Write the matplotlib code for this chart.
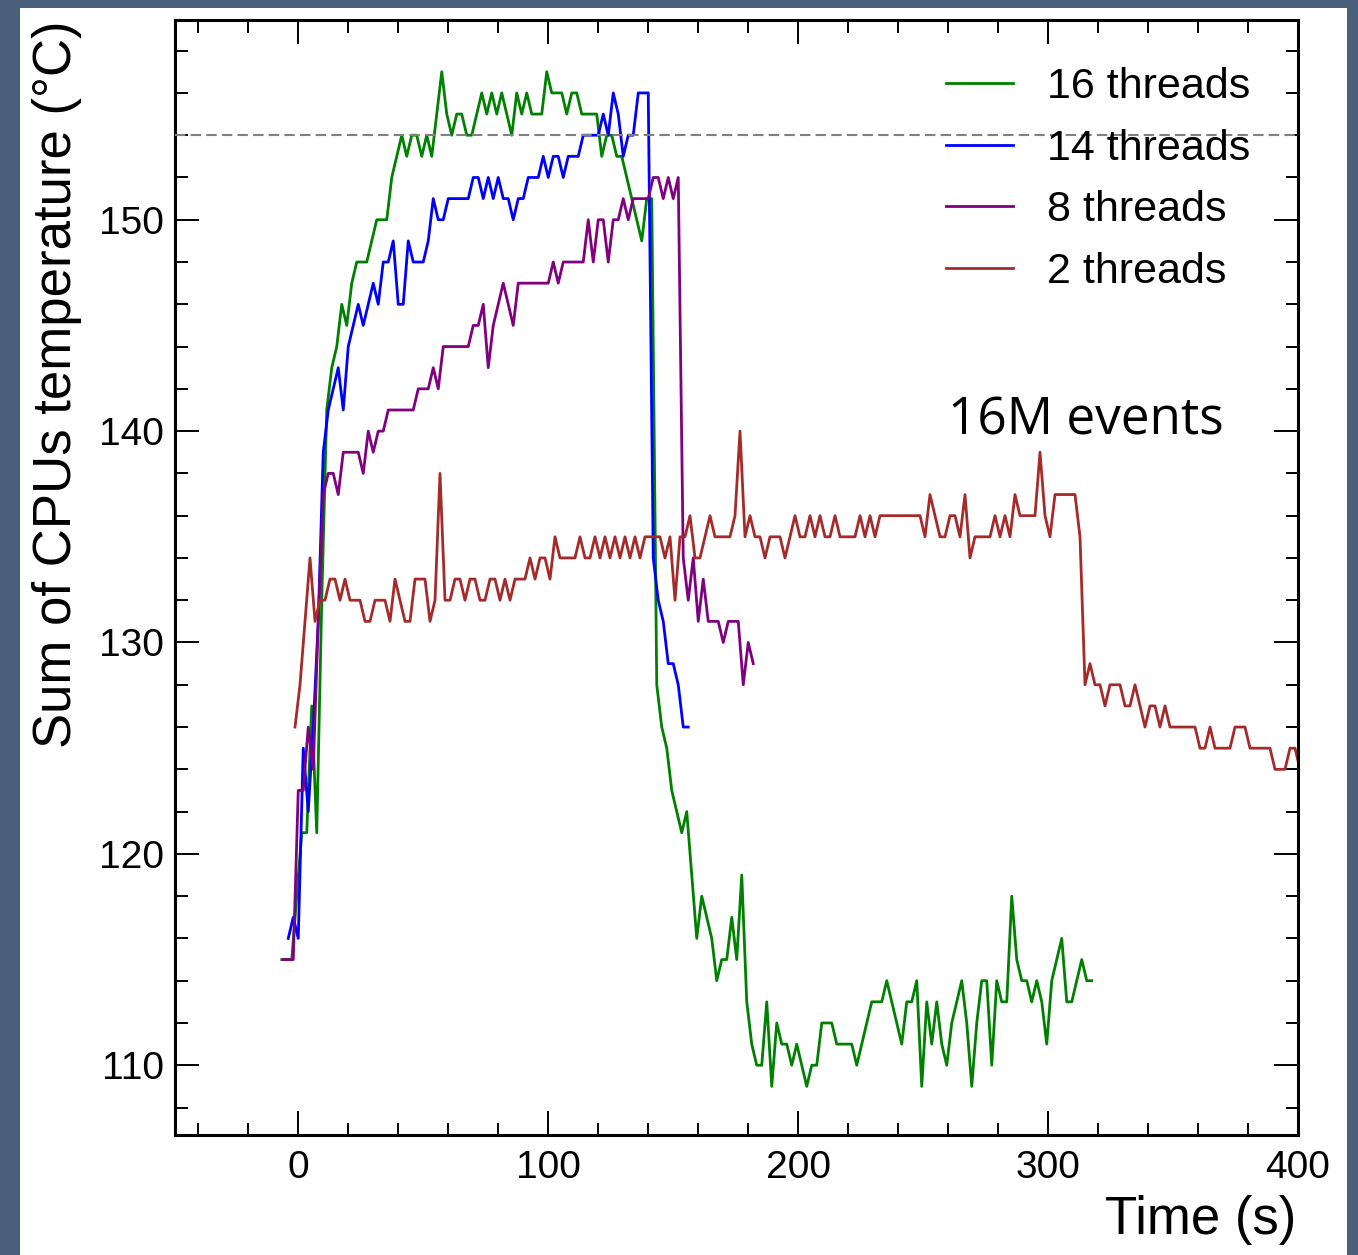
import numpy as np
import matplotlib
matplotlib.use("Agg")
import matplotlib.pyplot as plt
from matplotlib.patches import Rectangle
from matplotlib.ticker import MultipleLocator

# ---------------- data ----------------
DT = 2.0
green_t0 = -6.5
green_vals = [
    115, 115, 115, 118, 121, 121, 127, 121, 132, 141,
    143, 144, 146, 145, 147, 148, 148, 148, 149, 150,
    150, 150, 152, 153, 154, 153, 154, 154, 153, 154,
    153, 155, 157, 155, 154, 155, 155, 154, 154, 155,
    156, 155, 156, 155, 156, 155, 154, 156, 155, 156,
    155, 155, 155, 157, 156, 156, 156, 155, 156, 156,
    155, 155, 155, 155, 153, 154, 154, 153, 153, 152,
    151, 150, 149, 151, 151,
    128, 126, 125, 123, 122, 121, 122, 119, 116, 118,
    117, 116, 114, 115, 115, 117, 115, 119, 113, 111,
    110, 110, 113, 109, 112, 111, 111, 110, 111, 110,
    109, 110, 110, 112, 112, 112, 111, 111, 111, 111,
    110, 111, 112, 113, 113, 113, 114, 113, 112, 111,
    113, 113, 114, 109, 113, 111, 113, 111, 110, 112,
    113, 114, 112, 109, 112, 114, 114, 110, 114, 113,
    113, 118, 115, 114, 114, 113, 114, 113, 111, 114,
    115, 116, 113, 113, 114, 115, 114, 114,
]

blue_t0 = -3.9
blue_vals = [
    116, 117, 116, 125, 122, 126, 131, 139, 141, 142,
    143, 141, 144, 145, 146, 145, 146, 147, 146, 148,
    148, 149, 146, 146, 149, 148, 148, 148, 149, 151,
    150, 150, 151, 151, 151, 151, 151, 152, 152, 151,
    152, 151, 152, 151, 151, 150, 151, 151, 152, 152,
    152, 153, 152, 153, 153, 152, 153, 153, 153, 154,
    154, 154, 154, 155, 154, 156, 155, 153, 154, 154,
    156, 156, 156, 134, 132, 131, 129, 129, 128, 126,
    126,
]

purple_t0 = -5.9
purple_vals = [
    115, 115, 115, 123, 123, 126, 124, 131, 137, 138,
    138, 137, 139, 139, 139, 139, 138, 140, 139, 140,
    140, 141, 141, 141, 141, 141, 141, 142, 142, 142,
    143, 142, 144, 144, 144, 144, 144, 144, 145, 145,
    146, 143, 145, 146, 147, 146, 145, 147, 147, 147,
    147, 147, 147, 147, 148, 147, 148, 148, 148, 148,
    148, 150, 148, 150, 150, 148, 150, 150, 151, 150,
    151, 151, 151, 151, 152, 152, 151, 152, 151, 152,
    134, 132, 134, 131, 133, 131, 131, 131, 130, 131,
    131, 131, 128, 130, 129,
]

red_t0 = -1.2
red_vals = [
    126, 128, 131, 134, 131, 132, 132, 133, 133, 132,
    133, 132, 132, 132, 131, 131, 132, 132, 132, 131,
    133, 132, 131, 131, 133, 133, 133, 131, 132, 138,
    132, 132, 133, 133, 132, 133, 133, 132, 132, 133,
    133, 132, 133, 132, 133, 133, 133, 134, 133, 134,
    134, 133, 135, 134, 134, 134, 134, 135, 134, 134,
    135, 134, 135, 134, 135, 134, 135, 134, 135, 134,
    135, 135, 135, 135, 134, 135, 132, 135, 135, 136,
    134, 134, 135, 136, 135, 135, 135, 135, 136, 140,
    135, 136, 135, 135, 134, 135, 135, 135, 134, 135,
    136, 135, 135, 136, 135, 136, 135, 135, 136, 135,
    135, 135, 135, 136, 135, 136, 135, 136, 136, 136,
    136, 136, 136, 136, 136, 136, 135, 137, 136, 135,
    135, 136, 136, 135, 137, 134, 135, 135, 135, 135,
    136, 135, 136, 135, 137, 136, 136, 136, 136, 139,
    136, 135, 137, 137, 137, 137, 137, 135, 128, 129,
    128, 128, 127, 128, 128, 128, 127, 127, 128, 127,
    126, 127, 127, 126, 127, 126, 126, 126, 126, 126,
    126, 125, 125, 126, 125, 125, 125, 125, 126, 126,
    126, 125, 125, 125, 125, 125, 124, 124, 124, 125,
    125, 124,
]

labels = ["16 threads", "14 threads", "8 threads", "2 threads"]
colors = ["green", "blue", "purple", "brown"]
threshold = 154
annotation = "16M events"

# ---------------- figure ----------------
W, H = 1358, 1255
fig = plt.figure(figsize=(W / 100, H / 100), dpi=100)
fig.patch.set_facecolor("#4a5f79")
fig.patches.append(Rectangle((20 / W, 0), (1347 - 20) / W, 1 - 8 / H,
                             transform=fig.transFigure, facecolor="white",
                             edgecolor="none", zorder=-10))

ax = fig.add_axes([175 / W, 1 - 1135 / H, (1298 - 175) / W, (1135 - 20) / H])

series = [(green_t0, green_vals), (blue_t0, blue_vals),
          (purple_t0, purple_vals), (red_t0, red_vals)]
for (t0, vals), lab, col in zip(series, labels, colors):
    t = t0 + DT * np.arange(len(vals))
    ax.plot(t, vals, color=col, lw=2.0, label=lab)

ax.axhline(threshold, color="gray", lw=1.5, ls=(0, (5, 2.5)), zorder=3)

ax.set_xlim(-49.2, 400)
ax.set_ylim(106.7, 159.45)

font = "Liberation Sans"
ax.xaxis.set_major_locator(MultipleLocator(100))
ax.xaxis.set_minor_locator(MultipleLocator(20))
ax.yaxis.set_major_locator(MultipleLocator(10))
ax.yaxis.set_minor_locator(MultipleLocator(2))
ax.tick_params(which="both", direction="in", top=True, right=True, width=1.4)
ax.tick_params(which="major", length=17, labelsize=28)
ax.tick_params(which="minor", length=9)
ax.tick_params(axis="x", which="major", pad=11)
ax.tick_params(axis="y", which="major", pad=8)
for lab in ax.get_xticklabels() + ax.get_yticklabels():
    lab.set_fontfamily(font)
for sp in ax.spines.values():
    sp.set_linewidth(2.2)

ax.set_xlabel("Time (s)", fontsize=38, family=font, loc="right")
ax.xaxis.set_label_coords(0.998, -0.054)
ax.set_ylabel("Sum of CPUs temperature (°C)", fontsize=38, family=font, loc="top")
ax.yaxis.set_label_coords(-0.083, 1.0)

leg = ax.legend(loc="upper right", frameon=False, prop={"family": font, "size": 31},
                handlelength=1.55, handletextpad=0.8, labelspacing=0.5,
                borderaxespad=0.7)

ax.text((948 - 175) / 1123, (1135 - 421) / 1115, annotation, transform=ax.transAxes,
        fontsize=37, family="Open Sans", va="center", ha="left")

fig.savefig("out.png", dpi=100, facecolor=fig.get_facecolor())
